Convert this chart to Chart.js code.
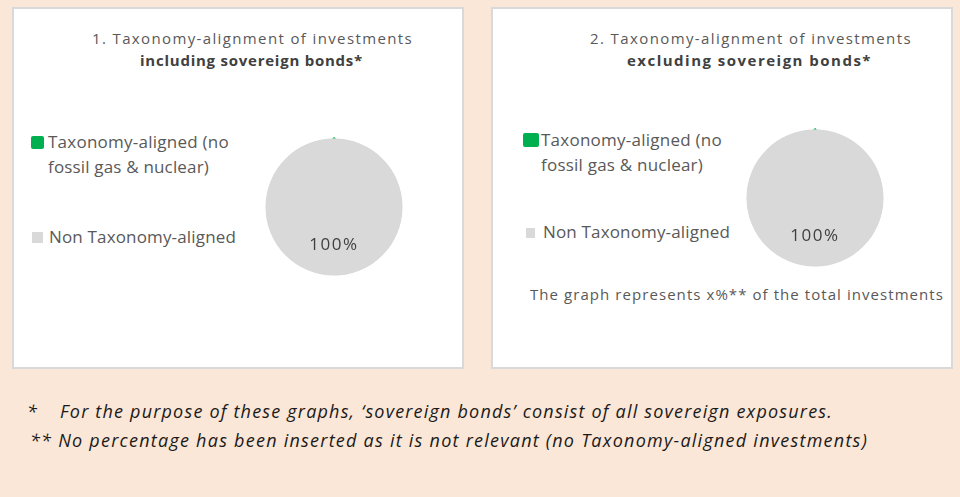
<!DOCTYPE html>
<html lang="en">
<head>
<meta charset="UTF-8">
<title>Taxonomy-alignment of investments</title>
<script src="https://cdn.jsdelivr.net/npm/chart.js"></script>
<style>
  html, body {
    margin: 0;
    padding: 0;
  }
  body {
    width: 960px;
    height: 497px;
    background: #fbe7d7;
    position: relative;
    overflow: hidden;
    font-family: 'Open Sans', sans-serif;
    color: #595959;
  }
  .panel {
    position: absolute;
    top: 7px;
    height: 358px;
    background: #fff;
    border: 2px solid #d9d9d9;
    overflow: hidden;
  }
  #panel1 { left: 12px; width: 448px; }
  #panel2 { left: 491px; width: 458px; }
  .txt {
    position: absolute;
    white-space: nowrap;
    line-height: 24px;
    height: 24px;
  }
  .box { position: absolute; }
  canvas { position: absolute; }
</style>
</head>
<body>
  <div class="panel" id="panel1">
    <canvas id="pie1" width="146" height="146" style="left:247px; top:125px"></canvas>
  </div>
  <div class="panel" id="panel2">
    <canvas id="pie2" width="146" height="146" style="left:249px; top:116px"></canvas>
  </div>

<script>
  // Data
  const categories = ["Taxonomy-aligned (no fossil gas & nuclear)", "Non Taxonomy-aligned"];
  const legendLines = [["Taxonomy-aligned (no", "fossil gas & nuclear)"], ["Non Taxonomy-aligned"]];
  const includingSovereign = [0.05, 99.95];
  const excludingSovereign = [0.05, 99.95];
  const sliceColors = ["#00b050", "#d9d9d9"];
  const shownLabels = ["", "100%"];

  const titles = [
    ["1. Taxonomy-alignment of investments", "including sovereign bonds*"],
    ["2. Taxonomy-alignment of investments", "excluding sovereign bonds*"]
  ];
  const caption = "The graph represents x%** of the total investments";
  const footnotes = [
    ["*", "For the purpose of these graphs, \u2018sovereign bonds\u2019 consist of all sovereign exposures."],
    ["", "** No percentage has been inserted as it is not relevant (no Taxonomy-aligned investments)"]
  ];

  // Put a line of text at (x, y centre) and stretch it to a given width with letter-spacing
  function placeText(parent, text, x, y, width, style) {
    const el = document.createElement("div");
    el.className = "txt";
    el.textContent = text;
    Object.assign(el.style, style || {});
    el.style.top = (y - 12) + "px";
    parent.appendChild(el);
    if (width) {
      const natural = el.getBoundingClientRect().width;
      el.style.letterSpacing = ((width - natural) / text.length) + "px";
    }
    el.style.left = x + "px";
    return el;
  }

  function placeBox(parent, x, y, w, h, color, radius) {
    const b = document.createElement("div");
    b.className = "box";
    Object.assign(b.style, {
      left: x + "px", top: y + "px", width: w + "px", height: h + "px",
      background: color, borderRadius: (radius || 0) + "px"
    });
    parent.appendChild(b);
  }

  const body = document.body;
  const titleStyle = { fontSize: "15px" };
  const boldStyle = { fontSize: "15px", fontWeight: "bold", color: "#404040" };
  const legendStyle = { fontSize: "17px" };

  // Panel 1 (page coordinates)
  placeText(body, titles[0][0], 92, 38, 321, titleStyle);
  placeText(body, titles[0][1], 140, 60, 223, boldStyle);
  placeBox(body, 31, 136, 13, 13, sliceColors[0], 2);
  placeText(body, legendLines[0][0], 48, 142, 181, legendStyle);
  placeText(body, legendLines[0][1], 48, 167, 161, legendStyle);
  placeBox(body, 32, 232, 11, 11, sliceColors[1]);
  placeText(body, legendLines[1][0], 49, 237, 187, legendStyle);

  // Panel 2
  placeText(body, titles[1][0], 590, 38, 322, titleStyle);
  placeText(body, titles[1][1], 627, 60, 245, boldStyle);
  placeBox(body, 523, 133, 16, 14, sliceColors[0], 2);
  placeText(body, legendLines[0][0], 541, 140, 181, legendStyle);
  placeText(body, legendLines[0][1], 541, 165, 162, legendStyle);
  placeBox(body, 526, 228, 9, 10, sliceColors[1]);
  placeText(body, legendLines[1][0], 543, 232, 187, legendStyle);
  placeText(document.getElementById("panel2"), caption, 37, 285, 414, { fontSize: "15px" });

  // Footnotes
  const footStyle = { fontSize: "18px", fontStyle: "italic", color: "#1a1a1a" };
  placeText(body, footnotes[0][0], 27, 411, 0, footStyle);
  placeText(body, footnotes[0][1], 60, 411, 773, footStyle);
  placeText(body, footnotes[1][1], 30, 440, 838, footStyle);

  // Draws the percentage inside the slice
  const sliceLabels = {
    id: "sliceLabels",
    afterDatasetsDraw(chart) {
      const ctx = chart.ctx;
      const meta = chart.getDatasetMeta(0);
      ctx.save();
      ctx.font = "17px 'Open Sans', sans-serif";
      ctx.letterSpacing = "1.5px";
      ctx.fillStyle = "#404040";
      ctx.textAlign = "center";
      ctx.textBaseline = "middle";
      meta.data.forEach((arc, i) => {
        if (!shownLabels[i]) return;
        const p = arc.getProps(["x", "y", "startAngle", "endAngle", "outerRadius"], true);
        const mid = (p.startAngle + p.endAngle) / 2;
        const r = p.outerRadius * 0.56;
        ctx.fillText(shownLabels[i], p.x + Math.cos(mid) * r, p.y + Math.sin(mid) * r);
      });
      ctx.restore();
    }
  };

  function makePie(id, values) {
    new Chart(document.getElementById(id), {
      type: "pie",
      data: {
        labels: categories,
        datasets: [{
          data: values,
          backgroundColor: sliceColors,
          borderColor: sliceColors,
          borderWidth: [3, 2],
          borderAlign: ["center", "inner"]
        }]
      },
      options: {
        responsive: false,
        animation: false,
        layout: { padding: 3 },
        plugins: {
          legend: { display: false },
          tooltip: { enabled: false }
        }
      },
      plugins: [sliceLabels]
    });
  }

  makePie("pie1", includingSovereign);
  makePie("pie2", excludingSovereign);
</script>
</body>
</html>
